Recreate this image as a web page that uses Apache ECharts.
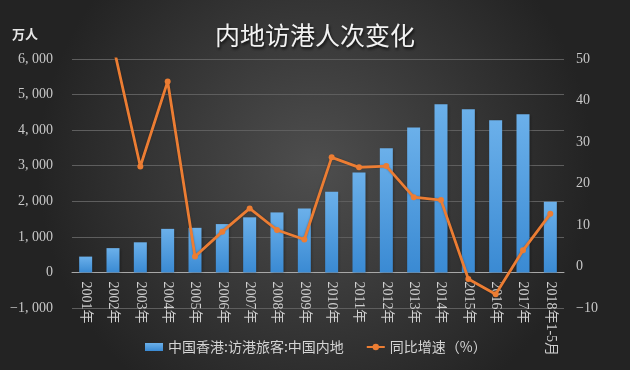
<!DOCTYPE html>
<html>
<head>
<meta charset="utf-8">
<script src="https://cdn.jsdelivr.net/npm/echarts@6/dist/echarts.min.js"></script>
<style>html,body{margin:0;padding:0;background:#333;}#c{width:630px;height:370px;}</style>
</head>
<body>
<div id="c"></div>
<script>
var categories = ['2001年','2002年','2003年','2004年','2005年','2006年','2007年','2008年','2009年','2010年','2011年','2012年','2013年','2014年','2015年','2016年','2017年','2018年1-5月'];
var visitors = [445, 683, 847, 1225, 1254, 1359, 1549, 1687, 1796, 2268, 2810, 3491, 4075, 4725, 4584, 4278, 4445, 1985];
var growth = [null, 53.5, 24.1, 44.6, 2.4, 8.4, 14.0, 8.8, 6.5, 26.3, 23.9, 24.2, 16.7, 16.0, -3.0, -6.7, 3.9, 12.7];
var barName = '中国香港:访港旅客:中国内地';
var lineName = '同比增速（%）';
var titleText = '内地访港人次变化';
var unitText = '万人';

var chart = echarts.init(document.getElementById('c'), null, {renderer: 'canvas'});
function fmtThousands(v) {
  var s = Math.abs(v).toString();
  if (Math.abs(v) >= 1000) s = s.slice(0, s.length - 3) + ', ' + s.slice(s.length - 3);
  return (v < 0 ? '−' : '') + s;
}
var serif = '"Liberation Serif", "DejaVu Serif", serif';
// plot: y from 59 (6000) to 308 (-1000); zero line at 59 + 249*6/7
var plotTop = 59, plotBottom = 62, zeroY = 59 + 249 * 6 / 7;
chart.setOption({
  backgroundColor: {
    type: 'radial', x: 0.5, y: 0.45, r: 0.75,
    colorStops: [{offset: 0, color: '#4e4e4e'}, {offset: 1, color: '#232323'}]
  },
  title: {
    text: titleText, left: 'center', top: 18,
    textStyle: {
      color: '#f2f2f2', fontSize: 25, fontWeight: 'normal',
      fontFamily: '"Noto Sans CJK SC", sans-serif',
      textShadowColor: 'rgba(0,0,0,0.8)', textShadowBlur: 3, textShadowOffsetX: 1, textShadowOffsetY: 2
    }
  },
  graphic: [{
    type: 'text', left: 12, top: 28,
    style: {text: unitText, fill: '#e6e6e6', font: 'bold 13px "Noto Sans CJK SC", sans-serif'}
  }],
  grid: [
    {left: 72, right: 66, top: plotTop, bottom: plotBottom, containLabel: false, outerBoundsMode: 'none'},
    {left: 72, right: 66, top: plotTop, height: zeroY - plotTop, containLabel: false, outerBoundsMode: 'none'}
  ],
  legend: {
    left: 140, top: 335,
    itemWidth: 18, itemHeight: 8, itemGap: 22,
    textStyle: {color: '#d4d4d4', fontSize: 14, fontFamily: '"Noto Sans CJK SC", sans-serif'},
    data: [{name: barName, icon: 'rect'}, {name: lineName}]
  },
  xAxis: [{
    type: 'category', data: categories, gridIndex: 0,
    axisLine: {show: false}, axisTick: {show: false}, axisLabel: {show: false}
  }, {
    type: 'category', data: categories, gridIndex: 1, position: 'bottom',
    axisLine: {show: true, onZero: false, lineStyle: {color: '#a8a8a8', width: 1}},
    axisTick: {show: false},
    axisLabel: {
      rotate: -90, interval: 0, margin: 9, color: '#cfcfcf', fontSize: 14,
      fontFamily: '"Liberation Serif", "Noto Sans CJK SC", serif'
    }
  }],
  yAxis: [{
    type: 'value', min: -1000, max: 6000, interval: 1000, gridIndex: 0,
    axisLine: {show: false}, axisTick: {show: false},
    splitLine: {lineStyle: {color: '#5e5e5e', width: 1}},
    axisLabel: {color: '#c8c8c8', fontSize: 14, fontFamily: serif, margin: 19, formatter: fmtThousands}
  }, {
    type: 'value', min: -10, max: 50, interval: 10, gridIndex: 0, position: 'right',
    axisLine: {show: false}, axisTick: {show: false}, splitLine: {show: false},
    axisLabel: {color: '#c8c8c8', fontSize: 14, fontFamily: serif, margin: 12,
      formatter: function (v) { return v < 0 ? '−' + Math.abs(v) : String(v); }}
  }, {
    type: 'value', min: 0, max: 1, gridIndex: 1, show: false
  }],
  series: [{
    name: barName, type: 'bar', data: visitors, xAxisIndex: 0, yAxisIndex: 0, barWidth: 13,
    itemStyle: {
      color: {type: 'linear', x: 0, y: 0, x2: 0, y2: 1,
        colorStops: [{offset: 0, color: '#6bb0ea'}, {offset: 1, color: '#3a8ad3'}]},
      shadowColor: 'rgba(0,0,0,0.35)', shadowBlur: 3, shadowOffsetX: 1, shadowOffsetY: 1
    }
  }, {
    name: lineName, type: 'line', data: growth, xAxisIndex: 0, yAxisIndex: 1,
    symbol: 'circle', symbolSize: 6, clip: true, connectNulls: false,
    lineStyle: {color: '#ec7d33', width: 2.8, shadowColor: 'rgba(0,0,0,0.3)', shadowBlur: 2},
    itemStyle: {color: '#ec7d33'}
  }]
});
</script>
</body>
</html>
